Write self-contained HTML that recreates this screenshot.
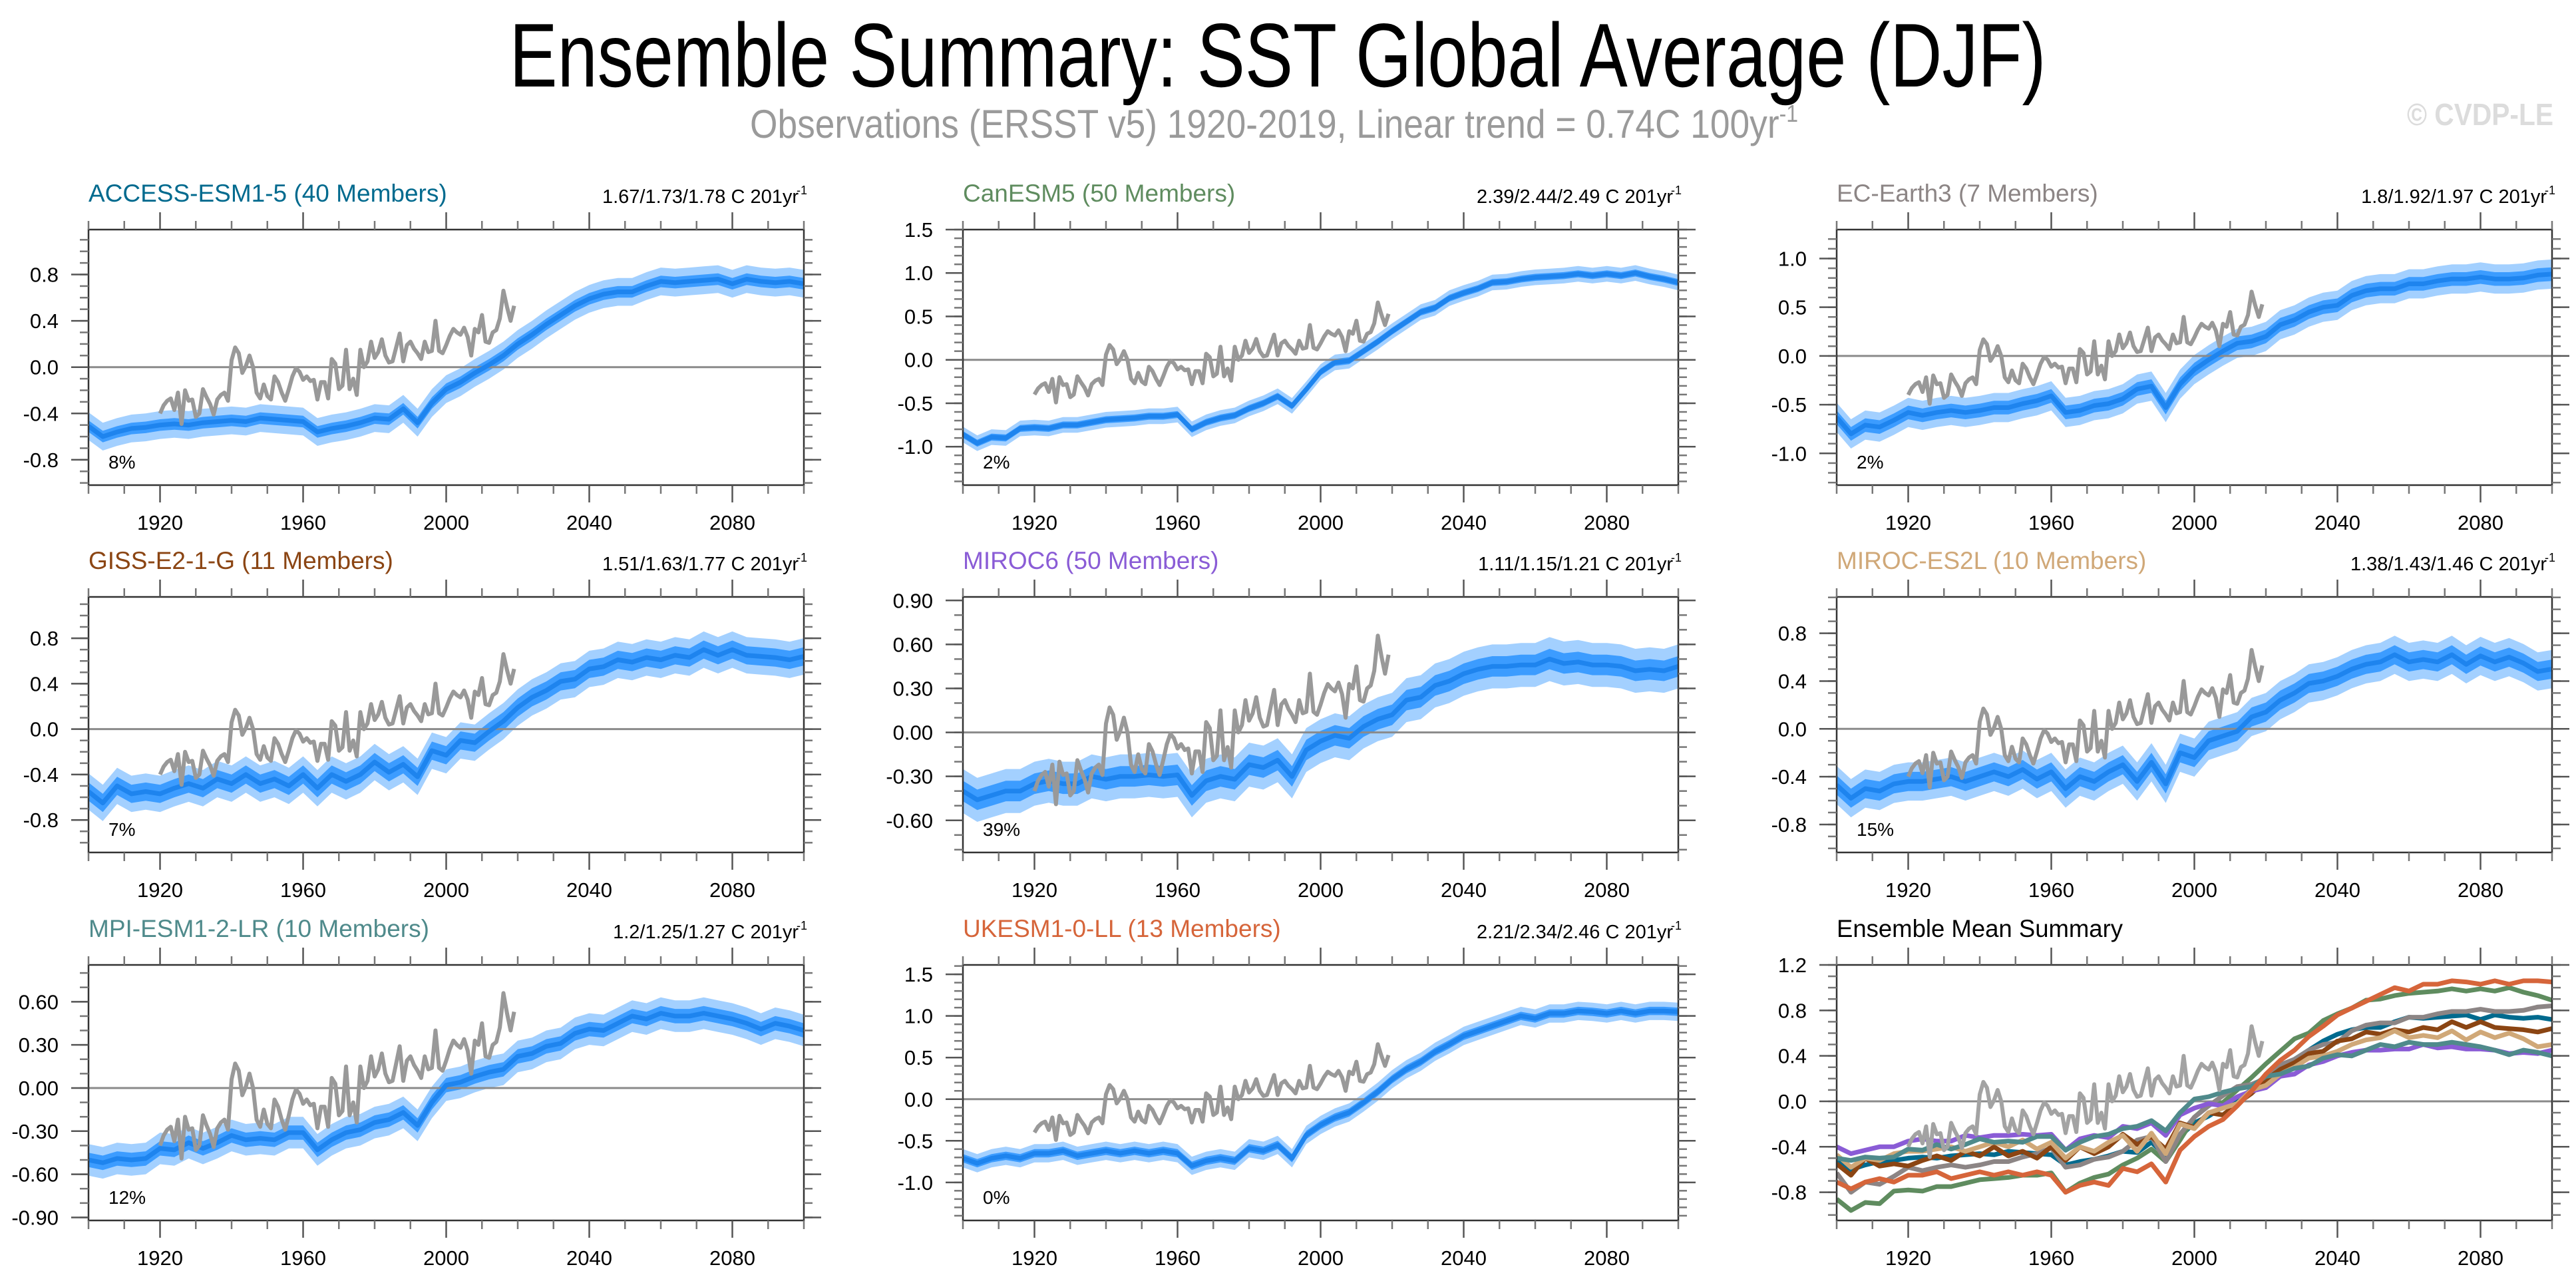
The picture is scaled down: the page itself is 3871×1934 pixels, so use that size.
<!DOCTYPE html>
<html>
<head>
<meta charset="utf-8">
<style>
html,body{margin:0;padding:0;background:#fff;}
svg{display:block;font-family:"Liberation Sans",Arial,sans-serif;}
</style>
</head>
<body>
<svg id="chart" xmlns="http://www.w3.org/2000/svg" width="3871" height="1934" viewBox="0 0 3871 1934">
<rect x="0" y="0" width="3871" height="1934" fill="#fff"/>
<text x="1920" y="130" font-size="136" text-anchor="middle" textLength="2309" lengthAdjust="spacingAndGlyphs" fill="#000">Ensemble Summary: SST Global Average (DJF)</text>
<text x="1127" y="207" font-size="60" fill="#9a9a9a" textLength="1575" lengthAdjust="spacingAndGlyphs">Observations (ERSST v5) 1920-2019, Linear trend = 0.74C 100yr<tspan dy="-24" font-size="36">-1</tspan></text>
<text x="3617" y="188" font-size="46" font-weight="bold" fill="#dcdcdc" textLength="220" lengthAdjust="spacingAndGlyphs">© CVDP-LE</text>
<g id="panels"></g>
</svg>
<script>
// ---- data ----
const modelYears = [1900,1904,1908,1912,1916,1920,1924,1928,1932,1936,1940,1944,1948,1952,1956,1960,1964,1968,1972,1976,1980,1984,1988,1992,1996,2000,2004,2008,2012,2016,2020,2024,2028,2032,2036,2040,2044,2048,2052,2056,2060,2064,2068,2072,2076,2080,2084,2088,2092,2096,2100];
const obsStartYear = 1920;
const obsValues = [-0.40,-0.33,-0.29,-0.27,-0.37,-0.22,-0.49,-0.20,-0.29,-0.28,
-0.43,-0.40,-0.19,-0.26,-0.32,-0.41,-0.28,-0.24,-0.22,-0.29,
0.06,0.17,0.12,-0.05,0.01,0.10,0.00,-0.22,-0.27,-0.15,
-0.25,-0.28,-0.08,-0.13,-0.22,-0.29,-0.19,-0.08,-0.01,-0.04,
-0.11,-0.08,-0.12,-0.11,-0.28,-0.13,-0.13,-0.27,0.07,0.03,
-0.19,-0.16,0.15,-0.19,-0.10,-0.24,0.15,0.00,0.05,0.22,
0.08,0.13,0.24,0.10,0.04,0.05,0.17,0.29,0.05,0.19,
0.22,0.16,0.12,0.07,0.22,0.13,0.14,0.40,0.14,0.12,
0.19,0.27,0.33,0.30,0.28,0.34,0.26,0.10,0.33,0.30,
0.45,0.22,0.21,0.30,0.32,0.42,0.66,0.52,0.40,0.53];
const accessMean = [-0.51,-0.60,-0.56,-0.53,-0.52,-0.50,-0.49,-0.50,-0.48,-0.47,-0.46,-0.47,-0.44,-0.45,-0.46,-0.47,-0.56,-0.53,-0.51,-0.48,-0.44,-0.45,-0.36,-0.48,-0.31,-0.19,-0.13,-0.05,0.02,0.10,0.20,0.28,0.37,0.45,0.53,0.59,0.63,0.65,0.65,0.70,0.74,0.73,0.74,0.75,0.76,0.72,0.76,0.74,0.73,0.74,0.72];
const canesmMean = [-0.86,-0.96,-0.89,-0.90,-0.79,-0.78,-0.79,-0.75,-0.75,-0.72,-0.69,-0.68,-0.67,-0.65,-0.65,-0.63,-0.80,-0.72,-0.67,-0.64,-0.56,-0.50,-0.42,-0.53,-0.34,-0.14,-0.03,-0.01,0.10,0.21,0.33,0.44,0.55,0.60,0.71,0.77,0.82,0.89,0.90,0.93,0.95,0.96,0.97,0.99,0.97,0.99,0.97,1.00,0.96,0.93,0.89];
const ecearthMean = [-0.63,-0.80,-0.71,-0.73,-0.66,-0.58,-0.61,-0.58,-0.56,-0.58,-0.56,-0.53,-0.53,-0.49,-0.46,-0.41,-0.58,-0.56,-0.51,-0.49,-0.44,-0.34,-0.31,-0.53,-0.29,-0.14,-0.04,0.05,0.13,0.15,0.20,0.32,0.37,0.45,0.50,0.52,0.62,0.67,0.69,0.69,0.74,0.74,0.77,0.79,0.79,0.81,0.79,0.79,0.80,0.83,0.84];
const gissMean = [-0.55,-0.65,-0.50,-0.57,-0.55,-0.57,-0.52,-0.48,-0.52,-0.44,-0.48,-0.40,-0.48,-0.44,-0.50,-0.40,-0.52,-0.40,-0.46,-0.40,-0.29,-0.38,-0.31,-0.42,-0.19,-0.23,-0.10,-0.12,-0.02,0.07,0.19,0.28,0.34,0.42,0.44,0.53,0.55,0.61,0.59,0.63,0.61,0.65,0.63,0.70,0.65,0.70,0.65,0.64,0.63,0.61,0.64];
const miroc6Mean = [-0.40,-0.46,-0.43,-0.40,-0.40,-0.35,-0.33,-0.35,-0.35,-0.30,-0.32,-0.30,-0.30,-0.29,-0.30,-0.29,-0.43,-0.33,-0.30,-0.32,-0.22,-0.24,-0.19,-0.30,-0.12,-0.06,-0.02,-0.04,0.04,0.09,0.12,0.22,0.24,0.32,0.35,0.40,0.43,0.45,0.45,0.46,0.46,0.50,0.47,0.48,0.46,0.46,0.45,0.42,0.43,0.42,0.45];
const mirocEs2lMean = [-0.47,-0.58,-0.50,-0.52,-0.46,-0.44,-0.44,-0.42,-0.40,-0.44,-0.40,-0.36,-0.40,-0.34,-0.42,-0.36,-0.50,-0.40,-0.44,-0.36,-0.30,-0.44,-0.28,-0.46,-0.20,-0.24,-0.10,-0.06,-0.02,0.10,0.14,0.24,0.30,0.38,0.40,0.44,0.50,0.54,0.56,0.62,0.56,0.58,0.56,0.62,0.54,0.61,0.56,0.60,0.55,0.48,0.50];
const mpiMean = [-0.50,-0.52,-0.49,-0.50,-0.49,-0.42,-0.43,-0.38,-0.42,-0.38,-0.33,-0.36,-0.35,-0.36,-0.31,-0.31,-0.43,-0.36,-0.31,-0.29,-0.24,-0.22,-0.17,-0.26,-0.10,0.02,0.04,0.08,0.11,0.13,0.22,0.24,0.29,0.31,0.38,0.41,0.40,0.45,0.50,0.48,0.52,0.50,0.50,0.52,0.50,0.48,0.45,0.41,0.45,0.43,0.40];
const ukesmMean = [-0.71,-0.77,-0.71,-0.68,-0.71,-0.65,-0.65,-0.62,-0.68,-0.65,-0.62,-0.65,-0.62,-0.65,-0.62,-0.65,-0.80,-0.74,-0.71,-0.74,-0.59,-0.62,-0.55,-0.71,-0.43,-0.31,-0.22,-0.16,-0.04,0.09,0.24,0.36,0.45,0.57,0.66,0.76,0.82,0.88,0.94,1.00,0.97,1.03,1.03,1.06,1.05,1.03,1.06,1.03,1.06,1.06,1.05];
const modelNames = ["ACCESS-ESM1-5","CanESM5","EC-Earth3","GISS-E2-1-G","MIROC6","MIROC-ES2L","MPI-ESM1-2-LR","UKESM1-0-LL"];
const memberCounts = [40,50,7,11,50,10,10,13];
const trendLabels = ["1.67/1.73/1.78","2.39/2.44/2.49","1.8/1.92/1.97","1.51/1.63/1.77","1.11/1.15/1.21","1.38/1.43/1.46","1.2/1.25/1.27","2.21/2.34/2.46"];
const percentLabels = ["8%","2%","2%","7%","39%","15%","12%","0%"];
const innerSpread = [0.05,0.04,0.07,0.08,0.07,0.08,0.05,0.05];
const outerSpread = [0.12,0.09,0.15,0.16,0.15,0.16,0.11,0.11];
const yMins = [-1.019,-1.443,-1.326,-1.086,-0.819,-1.034,-0.921,-1.457,-1.048];
const yMaxs = [1.188,1.5,1.297,1.164,0.924,1.104,0.856,1.613,1.2];
const yMajorFirst = [-0.8,-1.0,-1.0,-0.8,-0.6,-0.8,-0.9,-1.0,-0.8];
const yMajorLast = [0.8,1.5,1.0,0.8,0.9,0.8,0.6,1.5,1.2];
const yMajorStep = [0.4,0.5,0.5,0.4,0.3,0.4,0.3,0.5,0.4];
const yDecimals = [1,1,1,1,2,1,2,1,1];
const xTickLabels = [1920,1960,2000,2040,2080];
// ---- style / layout ----
const modelMeans = [accessMean,canesmMean,ecearthMean,gissMean,miroc6Mean,mirocEs2lMean,mpiMean,ukesmMean];
const modelColors = ["#006a8e","#5f8c5f","#8c8585","#8b4513","#8a5cd6","#d0a878","#4f8a8b","#d6653a"];
const colLefts = [133,1447,2760], rowTops = [345,897,1450];
const PW = 1075, PH = 384;
const NS = "http://www.w3.org/2000/svg";
const root = document.getElementById('panels');
function mk(tag, attrs, parent){
  const e = document.createElementNS(NS, tag);
  for (const k in attrs) e.setAttribute(k, attrs[k]);
  (parent||root).appendChild(e);
  return e;
}
function pathFrom(xs, ys){
  let d = '';
  for (let i=0;i<xs.length;i++) d += (i?'L':'M') + xs[i].toFixed(1) + ' ' + ys[i].toFixed(1);
  return d;
}
function drawPanel(pi){
  const x0 = colLefts[pi%3], y0 = rowTops[Math.floor(pi/3)];
  const ymin = yMins[pi], ymax = yMaxs[pi];
  const xs = yr => x0 + (yr-1900)/200*PW;
  const ys = v => y0 + (ymax - v)/(ymax - ymin)*PH;
  const g = mk('g', {});
  
  
  const cid = 'clip' + pi;
  const defs = mk('defs', {}, g);
  const cp = mk('clipPath', {id: cid}, defs);
  mk('rect', {x:x0, y:y0, width:PW, height:PH}, cp);
  const plot = mk('g', {'clip-path':'url(#'+cid+')'}, g);
  
  

  if (pi < 8){
    const mean = modelMeans[pi];
    const px = modelYears.map(xs);
    const bands = [[outerSpread[pi],'#a3d0ff','outer-spread-band'],[innerSpread[pi],'#3c9cff','inner-spread-band']];
    bands.forEach(b=>{
      const up = mean.map(v=>ys(v+b[0])), lo = mean.map(v=>ys(v-b[0]));
      const d = pathFrom(px, up) + pathFrom(px.slice().reverse(), lo.slice().reverse()).replace('M','L') + 'Z';
      const band = mk('path', {d:d, fill:b[1], stroke:'none'}, plot);
      
      
    });
    const zl = mk('line', {x1:x0, x2:x0+PW, y1:ys(0), y2:ys(0), stroke:'#8a8a8a', 'stroke-width':3}, plot);
    
    
    const ml = mk('path', {d:pathFrom(px, mean.map(ys)), fill:'none', stroke:'#1e84ee', 'stroke-width':7, 'stroke-linejoin':'round'}, plot);
    
    
  } else {
    const zl = mk('line', {x1:x0, x2:x0+PW, y1:ys(0), y2:ys(0), stroke:'#8a8a8a', 'stroke-width':3}, plot);
    
    
    modelMeans.forEach((mean, mi)=>{
      const l = mk('path', {d:pathFrom(modelYears.map(xs), mean.map(ys)), fill:'none', stroke:modelColors[mi], 'stroke-width':7, 'stroke-linejoin':'round'}, plot);
      
      
    });
  }
  const oy = obsValues.map((v,i)=>obsStartYear+i);
  const ol = mk('path', {d:pathFrom(oy.map(xs), obsValues.map(ys)), fill:'none', stroke: pi<8?'#999999':'#a3a3a3', 'stroke-width':6, 'stroke-linejoin':'round'}, plot);
  
  

  const box = mk('rect', {x:x0, y:y0, width:PW, height:PH, fill:'none', stroke:'#333', 'stroke-width':2.5}, g);
  
  
  const tg = mk('g', {stroke:'#777', 'stroke-width':2.5}, g);
  
  
  for (let k = Math.ceil(ymin*10); k <= Math.floor(ymax*10); k++){
    const y = ys(k/10);
    mk('line', {x1:x0-13, x2:x0, y1:y, y2:y}, tg);
    mk('line', {x1:x0+PW, x2:x0+PW+13, y1:y, y2:y}, tg);
  }
  const nMaj = Math.round((yMajorLast[pi]-yMajorFirst[pi])/yMajorStep[pi]);
  for (let k=0;k<=nMaj;k++){
    let v = Math.round((yMajorFirst[pi] + k*yMajorStep[pi])*1000)/1000;
    if (Math.abs(v) < 1e-9) v = 0;
    const y = ys(v);
    mk('line', {x1:x0-26, x2:x0, y1:y, y2:y, stroke:'#555'}, tg);
    mk('line', {x1:x0+PW, x2:x0+PW+26, y1:y, y2:y, stroke:'#555'}, tg);
    const t = mk('text', {x:x0-45, y:y+11, 'font-size':31, 'text-anchor':'end', fill:'#000'}, g);
    
    
    t.textContent = v.toFixed(yDecimals[pi]);
  }
  for (let yr=1900; yr<=2100; yr+=10){
    const x = xs(yr);
    const major = xTickLabels.indexOf(yr) >= 0;
    const L = major ? 26 : 13;
    mk('line', {x1:x, x2:x, y1:y0+PH, y2:y0+PH+L, stroke: major?'#555':'#777'}, tg);
    mk('line', {x1:x, x2:x, y1:y0-L, y2:y0, stroke: major?'#555':'#777'}, tg);
  }
  xTickLabels.forEach(yr=>{
    const t = mk('text', {x:xs(yr), y:y0+PH+67, 'font-size':31, 'text-anchor':'middle', fill:'#000'}, g);
    
    
    t.textContent = yr;
  });
  if (pi < 8){
    const tt = mk('text', {x:x0, y:y0-42, 'font-size':37, fill:modelColors[pi]}, g);
    
    
    tt.textContent = modelNames[pi] + ' (' + memberCounts[pi] + ' Members)';
    const tr = mk('text', {x:x0+PW-8, y:y0-40, 'font-size':29, 'text-anchor':'end', fill:'#000'}, g);
    
    
    tr.textContent = trendLabels[pi] + ' C 201yr';
    const sup = mk('text', {x:x0+PW+5, y:y0-53, 'font-size':18, 'text-anchor':'end', fill:'#000'}, g);
    
    
    sup.textContent = '-1';
    const pc = mk('text', {x:x0+30, y:y0+PH-25, 'font-size':28, fill:'#000'}, g);
    
    
    pc.textContent = percentLabels[pi];
  } else {
    const tt = mk('text', {x:x0, y:y0-42, 'font-size':37, fill:'#000', textLength:430, lengthAdjust:'spacingAndGlyphs'}, g);
    
    
    tt.textContent = 'Ensemble Mean Summary';
  }
}
for (let i=0;i<9;i++) drawPanel(i);
</script>
</body>
</html>
